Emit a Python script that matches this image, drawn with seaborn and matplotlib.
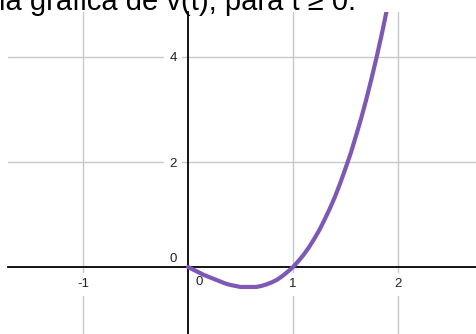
import matplotlib
matplotlib.use("Agg")
import matplotlib.pyplot as plt
import seaborn as sns
import pandas as pd

# Data
t_vals = [0.0, 0.05, 0.1, 0.15, 0.2, 0.25, 0.3, 0.35, 0.4, 0.45, 0.5,
          0.55, 0.6, 0.65, 0.7, 0.75, 0.8, 0.85, 0.9, 0.95, 1.0,
          1.05, 1.1, 1.15, 1.2, 1.25, 1.3, 1.35, 1.4, 1.45, 1.5,
          1.55, 1.6, 1.65, 1.7, 1.75, 1.8, 1.85, 1.9]
v_vals = [0.0, -0.05, -0.10, -0.15, -0.19, -0.23, -0.27, -0.31, -0.34, -0.36, -0.38,
          -0.38, -0.38, -0.38, -0.36, -0.33, -0.29, -0.24, -0.17, -0.09, 0.0,
          0.11, 0.23, 0.37, 0.53, 0.70, 0.90, 1.11, 1.34, 1.60, 1.88,
          2.17, 2.50, 2.84, 3.21, 3.61, 4.03, 4.48, 4.96]
x_ticks = [-1, 1, 2]
x_tick_labels = ["-1", "1", "2"]
y_ticks = [2, 4]
y_tick_labels = ["2", "4"]
title_text = "la gráfica de v(t), para t ≥ 0."

sns.set_style("white")
plt.rcParams["font.family"] = ["Liberation Sans", "DejaVu Sans"]

df = pd.DataFrame({"t": t_vals, "v": v_vals})

W, H = 477, 334
fig = plt.figure(figsize=(W / 100, H / 100), dpi=100)
ax = fig.add_axes([8 / W, 0, (W - 8) / W, (H - 12) / H])

sns.lineplot(data=df, x="t", y="v", ax=ax, color="#7d58b4", lw=3.0,
             solid_capstyle="round", solid_joinstyle="round", sort=False)

ax.set_xlim(-1.714, 2.752)
ax.set_ylim(-1.276, 4.857)
ax.set_xlabel("")
ax.set_ylabel("")

for side in ["top", "right"]:
    ax.spines[side].set_visible(False)
ax.spines["left"].set_position(("data", 0))
ax.spines["bottom"].set_position(("data", 0))
for side in ["left", "bottom"]:
    ax.spines[side].set_color("black")
    ax.spines[side].set_linewidth(1.3)
    ax.spines[side].set_zorder(1.8)

ax.set_xticks(x_ticks)
ax.set_xticklabels(x_tick_labels)
ax.set_yticks(y_ticks)
ax.set_yticklabels(y_tick_labels)
ax.tick_params(axis="both", direction="out", length=3, width=1, color="black",
               labelsize=9.5, labelcolor="#222222", pad=5)
ax.grid(True, color="#c8c8c8", lw=1)

for lab in ax.get_xticklabels() + ax.get_yticklabels():
    lab.set_bbox(dict(facecolor="white", edgecolor="none", pad=4))

ax.text(-0.143, 0.152, "0", fontsize=9.5, color="#222222", ha="center", va="center")
ax.text(0.105, -0.286, "0", fontsize=9.5, color="#222222", ha="center", va="center")

fig.text(-1 / W, 1 - 10 / H, title_text, fontsize=21, color="black",
         ha="left", va="baseline")

fig.savefig("out.png", dpi=100)
